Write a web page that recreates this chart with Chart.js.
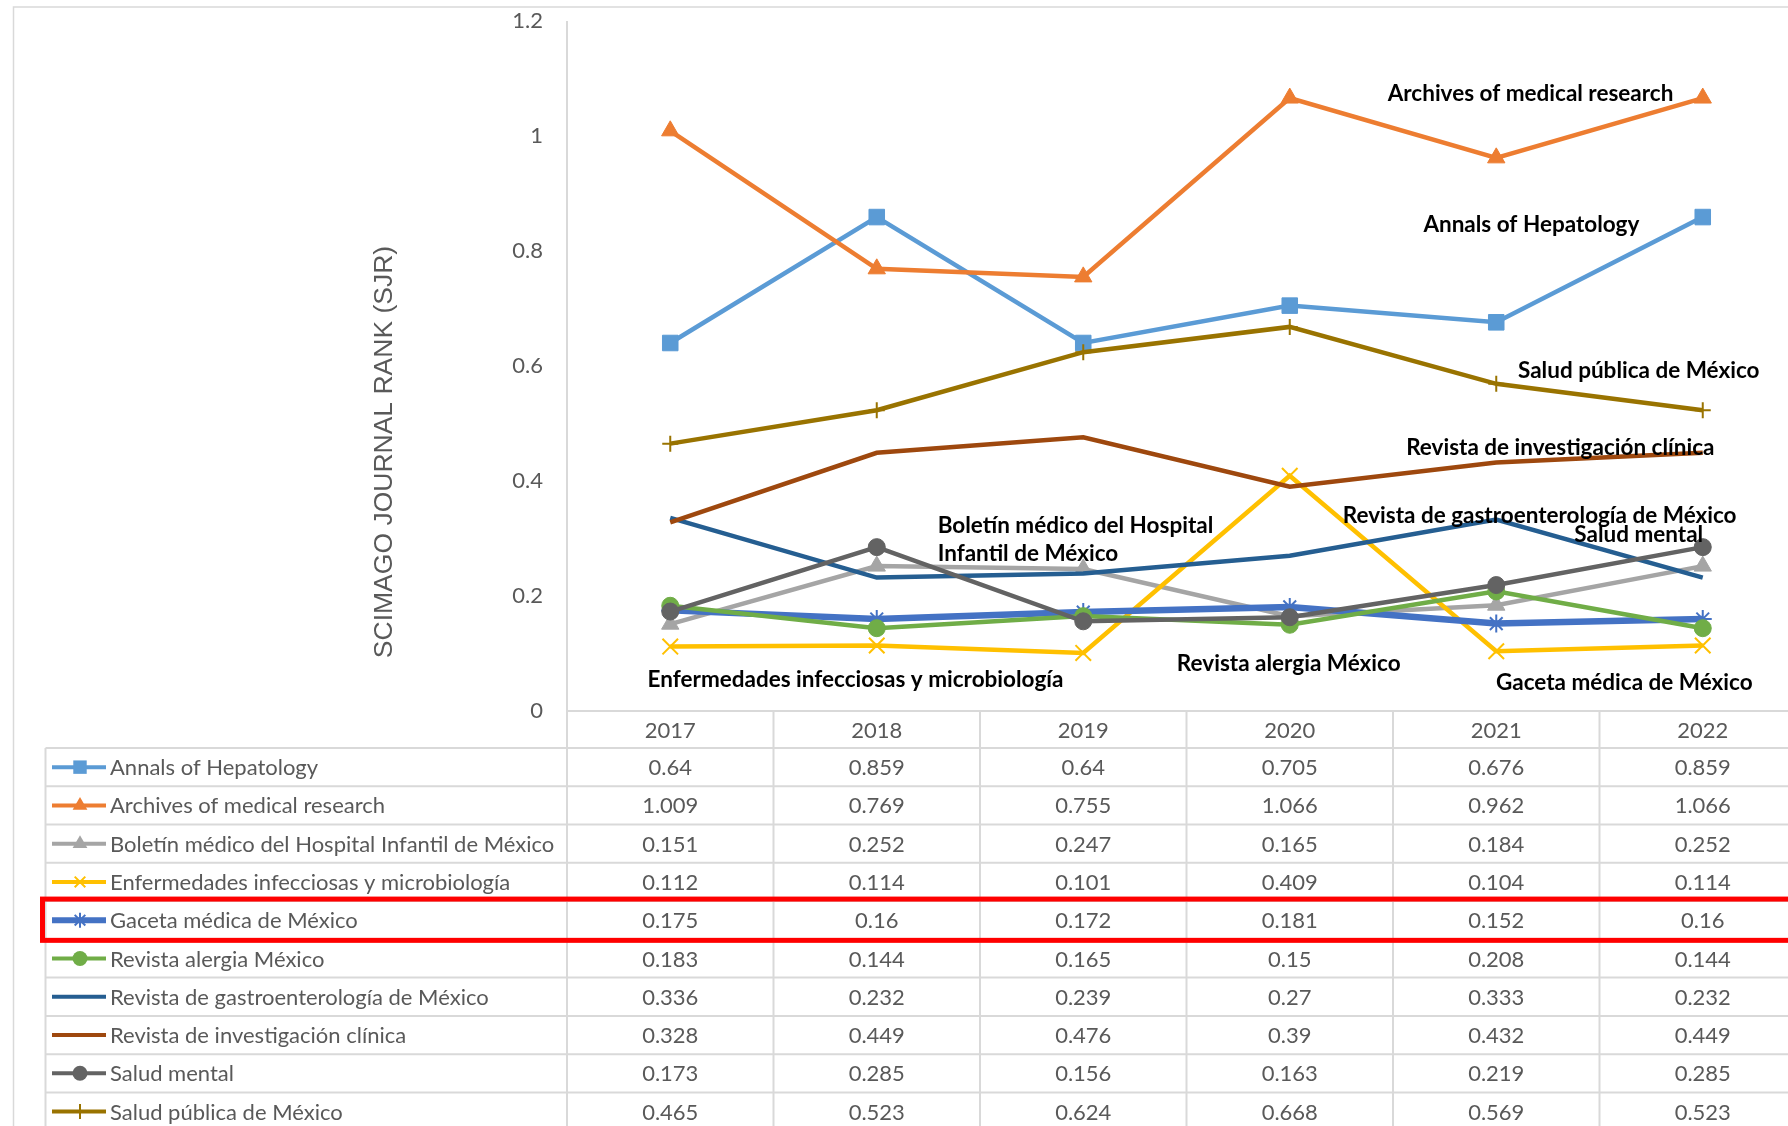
<!DOCTYPE html>
<html>
<head>
<meta charset="utf-8">
<script src="https://cdn.jsdelivr.net/npm/chart.js@4.4.0/dist/chart.umd.min.js"></script>
<style>
html,body{margin:0;padding:0;background:#fff;overflow:hidden;width:1788px;height:1126px}
#wrap{position:absolute;left:0;top:0;width:1819px;height:1126px}
</style>
</head>
<body>
<div id="wrap"><canvas id="c" width="1819" height="1126"></canvas></div>
<script>
// ---------- DATA ----------
const years = ['2017', '2018', '2019', '2020', '2021', '2022'];
const seriesNames = [
  'Annals of Hepatology',
  'Archives of medical research',
  'Boletín médico del Hospital Infantil de México',
  'Enfermedades infecciosas y microbiología',
  'Gaceta médica de México',
  'Revista alergia México',
  'Revista de gastroenterología de México',
  'Revista de investigación clínica',
  'Salud mental',
  'Salud pública de México'
];
const annalsHepatology      = [0.64, 0.859, 0.64, 0.705, 0.676, 0.859];
const archivesMedical       = [1.009, 0.769, 0.755, 1.066, 0.962, 1.066];
const boletinMedico         = [0.151, 0.252, 0.247, 0.165, 0.184, 0.252];
const enfermedadesInfecc    = [0.112, 0.114, 0.101, 0.409, 0.104, 0.114];
const gacetaMedica          = [0.175, 0.16, 0.172, 0.181, 0.152, 0.16];
const revistaAlergia        = [0.183, 0.144, 0.165, 0.15, 0.208, 0.144];
const revistaGastro         = [0.336, 0.232, 0.239, 0.27, 0.333, 0.232];
const revistaInvestigacion  = [0.328, 0.449, 0.476, 0.39, 0.432, 0.449];
const saludMental           = [0.173, 0.285, 0.156, 0.163, 0.219, 0.285];
const saludPublica          = [0.465, 0.523, 0.624, 0.668, 0.569, 0.523];
const seriesValues = [annalsHepatology, archivesMedical, boletinMedico, enfermedadesInfecc,
  gacetaMedica, revistaAlergia, revistaGastro, revistaInvestigacion, saludMental, saludPublica];
const yAxisTitle = 'SCIMAGO JOURNAL RANK (SJR)';
const highlightedSeries = 'Gaceta médica de México';

// ---------- STYLES ----------
const seriesStyles = [
  {color: '#5B9BD5', point: 'rect',     r: 11,  pw: 1, lw: 4.5},
  {color: '#ED7D31', point: 'triangle', r: 10,  pw: 1, lw: 4.5},
  {color: '#A5A5A5', point: 'triangle', r: 10,  pw: 1, lw: 4.5},
  {color: '#FFC000', point: 'crossRot', r: 11,  pw: 2, lw: 4.5},
  {color: '#4472C4', point: 'star',     r: 9,   pw: 2, lw: 6.5},
  {color: '#70AD47', point: 'circle',   r: 8.5, pw: 1, lw: 4.5},
  {color: '#255E91', point: false,      r: 0,   pw: 0, lw: 4.5},
  {color: '#9E480E', point: false,      r: 0,   pw: 0, lw: 4.5},
  {color: '#636363', point: 'circle',   r: 8.5, pw: 1, lw: 4.5},
  {color: '#997300', point: 'cross',    r: 8,   pw: 2, lw: 4.5}
];
// Series name annotations: position given in (category index, axis value) space
const annotations = [
  {text: 'Archives of medical research', xi: 4.166, yv: 1.073, align: 'center'},
  {text: 'Annals of Hepatology', xi: 4.17, yv: 0.845, align: 'center'},
  {text: 'Salud pública de México', xi: 4.69, yv: 0.591, align: 'center'},
  {text: 'Revista de investigación clínica', xi: 4.31, yv: 0.457, align: 'center'},
  {text: 'Revista de gastroenterología de México', xi: 4.21, yv: 0.339, align: 'center'},
  {text: 'Salud mental', xi: 4.69, yv: 0.306, align: 'center'},
  {text: 'Boletín médico del Hospital', xi: 1.295, yv: 0.322, align: 'left'},
  {text: 'Infantil de México', xi: 1.295, yv: 0.273, align: 'left'},
  {text: 'Enfermedades infecciosas y microbiología', xi: 0.897, yv: 0.054, align: 'center'},
  {text: 'Revista alergia México', xi: 2.995, yv: 0.082, align: 'center'},
  {text: 'Gaceta médica de México', xi: 4.62, yv: 0.050, align: 'center'}
];

const FONT = 'Lato, "Open Sans", sans-serif';
const GRID = '#D9D9D9';
const TXT = '#595959';

function drawMarker(ctx, style, cx, cy, r, color, pw) {
  ctx.save();
  ctx.fillStyle = color; ctx.strokeStyle = color; ctx.lineWidth = pw;
  ctx.beginPath();
  if (style === 'rect') {
    const s = r * Math.SQRT1_2;
    ctx.rect(cx - s, cy - s, 2 * s, 2 * s); ctx.fill();
  } else if (style === 'triangle') {
    for (let k = 0; k < 3; k++) {
      const a = k * 2 * Math.PI / 3;
      const px = cx + Math.sin(a) * r, py = cy - Math.cos(a) * r;
      k ? ctx.lineTo(px, py) : ctx.moveTo(px, py);
    }
    ctx.closePath(); ctx.fill();
  } else if (style === 'circle') {
    ctx.arc(cx, cy, r, 0, Math.PI * 2); ctx.fill();
  } else if (style === 'cross') {
    ctx.moveTo(cx, cy - r); ctx.lineTo(cx, cy + r);
    ctx.moveTo(cx - r, cy); ctx.lineTo(cx + r, cy); ctx.stroke();
  } else if (style === 'crossRot') {
    const d = r * Math.SQRT1_2;
    ctx.moveTo(cx - d, cy - d); ctx.lineTo(cx + d, cy + d);
    ctx.moveTo(cx - d, cy + d); ctx.lineTo(cx + d, cy - d); ctx.stroke();
  } else if (style === 'star') {
    const d = r * Math.SQRT1_2;
    ctx.moveTo(cx, cy - r); ctx.lineTo(cx, cy + r);
    ctx.moveTo(cx - d, cy - d); ctx.lineTo(cx + d, cy + d);
    ctx.moveTo(cx - d, cy + d); ctx.lineTo(cx + d, cy - d); ctx.stroke();
  }
  ctx.restore();
}

function line(ctx, x1, y1, x2, y2) {
  ctx.beginPath(); ctx.moveTo(x1, y1); ctx.lineTo(x2, y2); ctx.stroke();
}

const decorPlugin = {
  id: 'decor',
  beforeDraw(chart) {
    const ctx = chart.ctx;
    ctx.save();
    ctx.fillStyle = '#fff';
    ctx.fillRect(0, 0, chart.width, chart.height);
    ctx.strokeStyle = GRID; ctx.lineWidth = 1.5;
    ctx.beginPath();
    ctx.moveTo(13.5, chart.height + 5); ctx.lineTo(13.5, 7); ctx.lineTo(chart.width + 5, 7);
    ctx.stroke();
    ctx.restore();
  },
  afterDraw(chart) {
    const ctx = chart.ctx;
    const ca = chart.chartArea;
    const xs = chart.scales.x, ys = chart.scales.y;
    const colW = xs.getPixelForValue(1) - xs.getPixelForValue(0);
    const headerTop = ca.bottom;
    const headerH = 37, rowH = 38.27;
    const bodyTop = headerTop + headerH;
    const tableLeft = 45.5;
    const W = chart.width, H = chart.height;
    ctx.save();
    // grid of table
    ctx.strokeStyle = GRID; ctx.lineWidth = 2;
    line(ctx, ca.left, headerTop, W, headerTop);
    for (let r = 0; r <= seriesNames.length; r++) {
      const yy = bodyTop + r * rowH;
      line(ctx, tableLeft, yy, W, yy);
    }
    line(ctx, tableLeft, bodyTop, tableLeft, H);
    line(ctx, ca.left, ca.top, ca.left, H);
    for (let k = 1; k <= years.length; k++) {
      const xx = xs.getPixelForValue(0) - colW / 2 + k * colW;
      line(ctx, xx, headerTop, xx, H);
    }
    // header years
    ctx.fillStyle = TXT;
    ctx.font = '22px ' + FONT;
    ctx.textAlign = 'center'; ctx.textBaseline = 'middle';
    years.forEach((yr, i) => ctx.fillText(yr, xs.getPixelForValue(i), headerTop + headerH / 2 + 1));
    // rows
    seriesNames.forEach((name, r) => {
      const cy = bodyTop + r * rowH + rowH / 2 + 1;
      const st = seriesStyles[r];
      ctx.strokeStyle = st.color; ctx.lineWidth = name === highlightedSeries ? 6 : 4;
      ctx.lineCap = 'butt';
      line(ctx, 52, cy - 1, 106, cy - 1);
      if (st.point) drawMarker(ctx, st.point, 80, cy - 1, st.point === 'rect' ? 9.5 : (st.point === 'triangle' ? 8.5 : 7.5), st.color, st.pw);
      ctx.fillStyle = TXT;
      ctx.font = '22px ' + FONT;
      ctx.textAlign = 'left';
      ctx.fillText(name, 110, cy);
      ctx.textAlign = 'center';
      seriesValues[r].forEach((v, i) => ctx.fillText(String(v), xs.getPixelForValue(i), cy));
    });
    // highlight box
    const hi = seriesNames.indexOf(highlightedSeries);
    ctx.strokeStyle = '#FF0000'; ctx.lineWidth = 5;
    ctx.strokeRect(42.5, bodyTop + hi * rowH - 2, W, rowH + 3);
    // y axis title
    ctx.save();
    ctx.translate(385, (ca.top + ca.bottom) / 2 + 86);
    ctx.rotate(-Math.PI / 2);
    ctx.fillStyle = TXT;
    ctx.font = '26.5px "Liberation Sans", Arial, sans-serif';
    ctx.textAlign = 'center'; ctx.textBaseline = 'middle';
    ctx.fillText(yAxisTitle, 0, 0);
    ctx.restore();
    // annotations
    ctx.fillStyle = '#000';
    ctx.font = 'bold 22.5px ' + FONT;
    ctx.textBaseline = 'middle';
    const x0 = xs.getPixelForValue(0);
    annotations.forEach(a => {
      ctx.textAlign = a.align;
      ctx.fillText(a.text, x0 + a.xi * colW, ys.getPixelForValue(a.yv));
    });
    ctx.restore();
  }
};

const datasets = seriesNames.map((name, i) => {
  const st = seriesStyles[i];
  return {
    label: name,
    data: seriesValues[i],
    borderColor: st.color,
    backgroundColor: st.color,
    borderWidth: st.lw,
    pointStyle: st.point || 'circle',
    pointRadius: st.r,
    pointHoverRadius: st.r,
    pointBackgroundColor: st.color,
    pointBorderColor: st.color,
    pointBorderWidth: st.pw,
    tension: 0,
    fill: false,
    order: seriesNames.length - i
  };
});

new Chart(document.getElementById('c'), {
  type: 'line',
  data: {labels: years, datasets},
  plugins: [decorPlugin],
  options: {
    responsive: false,
    animation: false,
    devicePixelRatio: 1,
    layout: {padding: {left: 0, top: 21, right: 7, bottom: 0}},
    plugins: {legend: {display: false}, tooltip: {enabled: false}},
    scales: {
      x: {
        type: 'category',
        offset: true,
        grid: {display: false},
        border: {display: false},
        ticks: {display: false},
        afterFit: s => { s.height = 415; s.paddingLeft = 0; s.paddingRight = 0; }
      },
      y: {
        min: 0, max: 1.2,
        grid: {display: false, drawTicks: false},
        border: {display: false},
        ticks: {
          stepSize: 0.2, padding: 24, color: TXT, font: {family: FONT, size: 22},
          callback: v => String(Number(v.toFixed(2)))
        },
        afterFit: s => { s.width = 567; s.paddingTop = 0; s.paddingBottom = 0; }
      }
    }
  }
});
</script>
</body>
</html>
